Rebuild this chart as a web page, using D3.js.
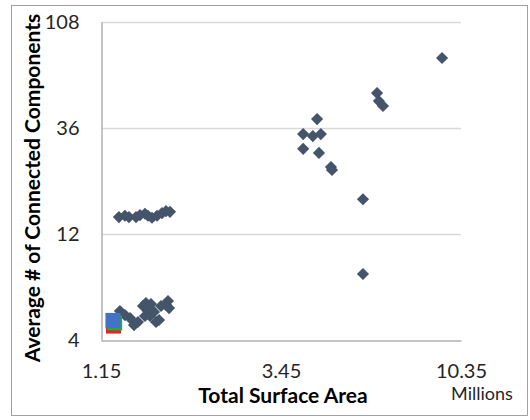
<!DOCTYPE html>
<html>
<head>
<meta charset="utf-8">
<script src="https://cdn.jsdelivr.net/npm/d3@7"></script>
<style>
  body { margin: 0; background: #fff; }
  svg { display: block; font-family: Lato, "Open Sans", sans-serif; }
</style>
</head>
<body>
<svg id="chart"></svg>
<script>
// surface area in millions, average # of connected components
const xTicks = [1.15, 3.45, 10.35]
const yTicks = [4, 12, 36, 108]

const area = [
  // upper band
  1.283, 1.331, 1.364, 1.424, 1.459, 1.504, 1.532, 1.570, 1.619, 1.669, 1.710, 1.752,
  // lower band
  1.291, 1.331, 1.407, 1.441, 1.486, 1.513, 1.532, 1.560, 1.551, 1.589, 1.609, 1.639,
  1.659, 1.710, 1.731, 1.742, 1.504, 1.373,
  // larger meshes
  4.30, 3.95, 4.19, 4.40, 3.95, 4.35, 4.68, 4.71, 5.69, 5.69, 6.20, 6.27, 6.43, 9.22
]
const components = [
  14.3, 14.5, 14.3, 14.3, 14.6, 14.8, 14.5, 14.2, 14.5, 14.9, 15.2, 15.1,
  5.40, 5.18, 4.67, 4.82, 5.69, 5.87, 5.40, 5.81, 5.13, 5.35, 4.82, 4.92,
  5.69, 5.75, 5.99, 5.57, 5.13, 5.02,
  39.5, 33.8, 33.1, 33.8, 29.0, 27.8, 24.0, 23.3, 17.2, 7.93, 51.7, 47.6, 45.2, 74.4
]

// the three highlighted squares, drawn red, green, blue (blue on top)
const squareArea = [1.241, 1.25, 1.237]
const squareComponents = [4.62, 4.77, 4.90]
const squareColors = ['#e8241c', '#22a84a', '#4472c4']

const width = 530
const height = 420
const margin = {top: 22, right: 69, bottom: 80, left: 101}

const svg = d3.select('#chart')
  .attr('width', width)
  .attr('height', height)
  .attr('viewBox', `0 0 ${width} ${height}`)

svg.append('rect')
  .attr('x', 11.5).attr('y', 5.5)
  .attr('width', 516).attr('height', 410)
  .attr('fill', '#fff')
  .attr('stroke', '#a0a0a0')

const x = d3.scaleLog().base(3)
  .domain([xTicks[0], xTicks[xTicks.length - 1]])
  .range([margin.left, width - margin.right])

const y = d3.scaleLog().base(3)
  .domain([yTicks[0], yTicks[yTicks.length - 1]])
  .range([height - margin.bottom, margin.top])

// horizontal gridlines
svg.append('g')
  .selectAll('line')
  .data(yTicks.slice(1))
  .join('line')
    .attr('x1', x.range()[0]).attr('x2', x.range()[1])
    .attr('y1', d => Math.round(y(d)) + 0.5).attr('y2', d => Math.round(y(d)) + 0.5)
    .attr('stroke', '#d9d9d9')
    .attr('stroke-width', 1.5)

const yAxis = g => g
  .attr('transform', `translate(${margin.left + 0.5},0)`)
  .call(d3.axisLeft(y).tickValues(yTicks).tickFormat(d3.format('d')).tickSize(0).tickPadding(22))
  .call(g => g.select('.domain').attr('stroke', '#b0b0b0').attr('stroke-width', 1.5))
  .call(g => g.selectAll('text').attr('font-size', 20).attr('fill', '#262626').attr('font-family', 'Lato'))

const xAxis = g => g
  .attr('transform', `translate(0,${height - margin.bottom + 0.5})`)
  .call(d3.axisBottom(x).tickValues(xTicks).tickFormat(d3.format('.2f')).tickSize(0).tickPadding(23))
  .call(g => g.select('.domain').attr('stroke', '#b0b0b0').attr('stroke-width', 1.5))
  .call(g => g.selectAll('text').attr('font-size', 20).attr('fill', '#262626').attr('font-family', 'Lato'))

svg.append('g').call(xAxis)
svg.append('g').call(yAxis)

const points = area.map((a, i) => ({a, c: components[i]}))

// excel style diamond: a square turned 45 degrees
svg.append('g')
    .attr('fill', '#44546a')
  .selectAll('path')
  .data(points)
  .join('path')
    .attr('d', d3.symbol(d3.symbolSquare, 74))
    .attr('transform', d => `translate(${x(d.a)},${y(d.c)}) rotate(45)`)

svg.append('g')
  .selectAll('rect')
  .data(squareArea.map((a, i) => ({a, c: squareComponents[i], color: squareColors[i]})))
  .join('rect')
    .attr('x', d => x(d.a) - 7.5)
    .attr('y', d => y(d.c) - 7.5)
    .attr('width', 15)
    .attr('height', 15)
    .attr('fill', d => d.color)

svg.append('text')
  .attr('x', 283).attr('y', 403)
  .attr('text-anchor', 'middle')
  .attr('font-size', 21).attr('font-weight', 'bold')
  .attr('fill', '#000')
  .text('Total Surface Area')

svg.append('text')
  .attr('x', 482).attr('y', 400)
  .attr('text-anchor', 'middle')
  .attr('font-size', 18)
  .attr('fill', '#262626')
  .text('Millions')

svg.append('text')
  .attr('transform', 'translate(40,188) rotate(-90)')
  .attr('text-anchor', 'middle')
  .attr('font-size', 21).attr('font-weight', 'bold')
  .attr('fill', '#000')
  .text('Average # of Connected Components')
</script>
</body>
</html>
